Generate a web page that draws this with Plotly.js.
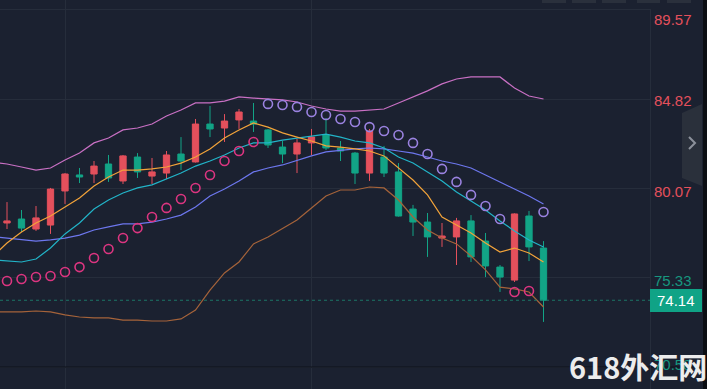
<!DOCTYPE html>
<html><head><meta charset="utf-8">
<script src="https://cdn.plot.ly/plotly-3.0.1.min.js"></script>
<style>html,body{margin:0;padding:0;background:#1b2130;overflow:hidden}#c{width:707px;height:389px}</style>
</head><body><div id="c"></div><script>
// candle index (bar number)
const bars = [0,1,2,3,4,5,6,7,8,9,10,11,12,13,14,15,16,17,18,19,20,21,22,23,24,25,26,27,28,29,30,31,32,33,34,35,36,37];
const lineBars = [-1].concat(bars);
const openP  = [78.24,78.45,77.92,78.13,79.94,80.79,80.84,81.37,80.47,81.74,80.73,80.89,81.90,81.48,83.49,83.28,83.71,83.65,83.18,82.27,81.90,82.49,82.91,82.22,81.95,80.89,81.74,80.95,78.98,78.29,77.44,77.50,78.35,77.28,75.90,75.21,78.61,76.91];
const highP  = [79.35,78.93,79.14,80.10,80.89,81.16,81.53,81.85,81.85,81.95,81.69,82.06,82.80,83.76,84.45,84.02,84.29,84.61,83.23,82.59,82.70,83.23,83.81,82.59,82.01,83.23,82.33,81.42,79.20,78.77,78.24,78.51,78.66,77.71,76.01,78.75,78.88,77.28];
const lowP   = [77.92,77.76,77.82,77.66,79.25,80.36,80.36,80.42,80.31,80.63,80.31,80.57,81.05,81.45,82.80,82.54,83.23,83.07,82.22,81.42,80.89,81.85,82.11,81.53,80.31,80.47,80.68,78.58,77.55,76.44,76.97,76.01,76.17,75.37,74.58,75.11,76.22,72.99];
const closeP = [78.35,77.97,78.51,80.04,80.84,80.68,81.26,80.63,81.80,80.95,80.95,81.85,81.53,83.49,83.23,83.65,84.13,83.49,82.38,81.90,82.49,82.80,82.22,82.06,80.89,83.12,80.89,78.61,78.29,77.50,77.55,78.35,76.44,75.96,75.37,78.72,76.97,74.14];
// indicator lines (first value = bar before the first visible candle)
const bollUpper = [81.47,81.37,81.21,81.05,81.16,81.58,81.95,82.49,82.75,83.18,83.28,83.49,83.92,84.24,84.61,84.61,84.71,84.93,84.87,84.82,84.77,84.66,84.45,84.29,84.18,84.18,84.24,84.29,84.61,84.93,85.25,85.62,85.88,85.99,85.99,85.99,85.40,84.98,84.82];
const ma5  = [76.45,77.18,77.76,78.24,78.61,79.09,79.57,80.20,80.68,81.05,81.05,81.11,81.21,81.42,81.74,82.17,82.75,83.18,83.55,83.33,83.02,82.80,82.59,82.33,82.27,82.17,82.06,81.80,81.16,80.52,79.73,78.56,78.13,77.71,77.18,76.70,76.91,76.65,76.17];
const ma10 = [76.28,76.22,76.17,76.33,76.91,77.66,78.24,78.98,79.46,79.83,80.10,80.26,80.57,80.89,81.26,81.53,81.85,82.22,82.49,82.49,82.64,82.75,82.86,82.96,82.80,82.59,82.49,82.22,81.74,81.42,80.95,80.47,79.89,79.41,78.93,78.35,77.82,77.34,76.97];
const bollMid = [77.52,77.44,77.39,77.28,77.34,77.44,77.60,77.87,78.03,78.19,78.19,78.29,78.45,78.66,79.09,79.67,80.04,80.47,80.95,81.16,81.32,81.58,81.80,82.01,82.11,82.17,82.22,82.17,82.06,81.95,81.74,81.53,81.37,81.16,80.79,80.42,80.04,79.67,79.25];
const bollLower = [73.52,73.52,73.52,73.57,73.52,73.36,73.25,73.20,73.20,73.09,73.09,73.04,73.04,73.15,73.62,74.68,75.59,76.17,77.13,77.50,77.97,78.40,79.04,79.67,79.99,79.99,80.15,80.10,79.46,78.56,77.87,77.44,77.13,76.49,75.75,74.84,74.74,74.58,73.78];
const sar = [75.16,75.27,75.37,75.43,75.64,75.90,76.38,76.86,77.44,77.97,78.56,79.04,79.51,80.10,80.79,81.53,82.06,82.54,84.56,84.50,84.40,84.13,83.97,83.76,83.60,83.33,83.12,82.91,82.49,81.90,81.11,80.42,79.73,79.14,78.45,74.58,74.63,78.82];
const axisTicks = [89.57,84.82,80.07,75.33,70.58];
const axisTickText = ['89.57','84.82','80.07','75.33','70.58'];
const lastPrice = 74.14;
const watermark = '618外汇网';

const W=707,H=389,PW=651;
const RED='#e4505c', GREEN='#12a486';
const px=(p)=>p/PW, py=(p)=>1-p/H;

const traces=[];
traces.push({type:'candlestick',x:bars,open:openP,high:highP,low:lowP,close:closeP,
  increasing:{line:{color:RED,width:1},fillcolor:RED},
  decreasing:{line:{color:GREEN,width:1},fillcolor:GREEN},
  whiskerwidth:0,hoverinfo:'skip',showlegend:false});
function ln(y,color,w){traces.push({type:'scatter',mode:'lines',x:lineBars,y:y,line:{color:color,width:w||1.2},hoverinfo:'skip',showlegend:false});}
ln(bollUpper,'#c970c4');
ln(bollLower,'#a5633a');
ln(bollMid,'#6d77ee');
ln(ma10,'#22b4c8');
ln(ma5,'#f2a33a');
const sarColors = sar.map((v,i)=> v>closeP[i] ? '#9a82e0' : '#dc3580');
traces.push({type:'scatter',mode:'markers',x:bars,y:sar,marker:{symbol:'circle-open',size:9,color:sarColors,line:{width:1.6,color:sarColors}},hoverinfo:'skip',showlegend:false});

const yTop=90.074, yBot=69.43;
const shapes=[];
shapes.push({type:'line',xref:'paper',yref:'y',x0:0,x1:1,y0:lastPrice,y1:lastPrice,line:{color:'#1d7565',width:1,dash:'3px,3px'}});
shapes.push({type:'line',xref:'paper',yref:'paper',x0:0,x1:px(703),y0:py(367),y1:py(367),line:{color:'#0f131b',width:1.2}});
shapes.push({type:'line',xref:'paper',yref:'paper',x0:px(650.5),x1:px(650.5),y0:0,y1:py(10),line:{color:'#262d3b',width:1}});
shapes.push({type:'rect',xref:'paper',yref:'paper',x0:px(650),x1:px(702),y0:py(312),y1:py(289),fillcolor:'#10a386',line:{width:0}});
shapes.push({type:'rect',xref:'paper',yref:'paper',x0:px(703),x1:px(708),y0:0,y1:1,fillcolor:'#0b0e13',line:{width:0}});
shapes.push({type:'path',xref:'paper',yref:'paper',path:`M ${px(682)} ${py(113)} L ${px(702)} ${py(104)} L ${px(702)} ${py(186)} L ${px(682)} ${py(178)} Z`,fillcolor:'#2a303b',line:{width:0}});
shapes.push({type:'path',xref:'paper',yref:'paper',path:`M ${px(689)} ${py(137)} L ${px(695)} ${py(143)} L ${px(689)} ${py(149)}`,line:{color:'#8c919b',width:2}});
[[542,566],[572,596],[602,626],[637,660],[667,691]].forEach(b=>{
  shapes.push({type:'rect',xref:'paper',yref:'paper',x0:px(b[0]),x1:px(b[1]),y0:py(3),y1:py(-6),fillcolor:'#2a303c',line:{width:0}});
});

const tickCols=['#e4505c','#e4505c','#e4505c','#17977f','#17977f'];
const tickPy=[19,100,191,280,364];
const ann=axisTickText.map((t,i)=>({xref:'paper',yref:'paper',x:px(694),y:py(tickPy[i]),xanchor:'right',yanchor:'middle',text:t,showarrow:false,font:{family:'Liberation Sans, Arial, sans-serif',size:15,color:tickCols[i]}}));
ann.push({xref:'paper',yref:'paper',x:px(676),y:py(300.5),xanchor:'center',yanchor:'middle',text:lastPrice.toFixed(2),showarrow:false,font:{family:'Liberation Sans, Arial, sans-serif',size:15,color:'#ffffff'}});
ann.push({xref:'paper',yref:'paper',x:px(638),y:py(366),xanchor:'center',yanchor:'middle',text:'<b>'+watermark+'</b>',showarrow:false,font:{family:'Noto Sans CJK SC, sans-serif',size:29,color:'#ececec'}});

const layout={width:W,height:H,margin:{l:0,r:W-PW,t:0,b:0},paper_bgcolor:'#1b2130',plot_bgcolor:'#1b2130',
  showlegend:false,boxgap:0.38,
  xaxis:{range:[-7/14.5,(PW-7)/14.5],tickvals:[4,21],showticklabels:false,showgrid:true,gridcolor:'#262d3b',gridwidth:1,zeroline:false,rangeslider:{visible:false},showline:false,fixedrange:true},
  yaxis:{range:[yBot,yTop],tickvals:axisTicks,showticklabels:false,showgrid:true,gridcolor:'#262d3b',gridwidth:1,zeroline:false,side:'right',fixedrange:true},
  shapes:shapes,annotations:ann};
Plotly.newPlot('c',traces,layout,{staticPlot:true,displayModeBar:false});
</script></body></html>
